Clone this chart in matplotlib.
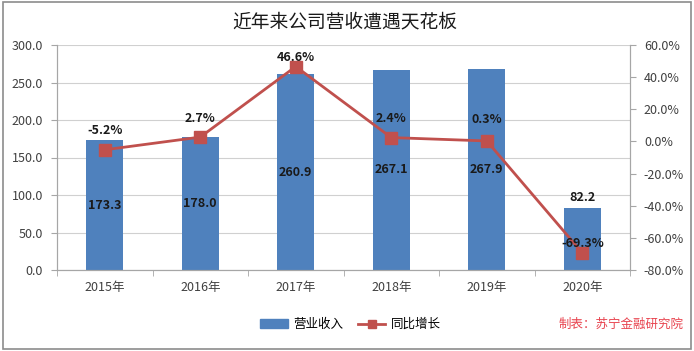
import matplotlib
matplotlib.use("Agg")
import matplotlib.pyplot as plt
from matplotlib.patches import Rectangle, Patch
from matplotlib.lines import Line2D
from matplotlib.ticker import FuncFormatter, FixedLocator

plt.rcParams['font.family'] = ['Noto Sans CJK SC', 'DejaVu Sans']

# data
years = ['2015年', '2016年', '2017年', '2018年', '2019年', '2020年']
revenue = [173.3, 178.0, 260.9, 267.1, 267.9, 82.2]
growth = [-5.2, 2.7, 46.6, 2.4, 0.3, -69.3]

bar_col = '#4f81bd'
line_col = '#c0504d'
grey = '#a6a6a6'

fig = plt.figure(figsize=(6.94, 3.51), dpi=100)
ax = fig.add_axes([57 / 694, 1 - 270 / 351, (630 - 57) / 694, 225 / 351])
ax2 = ax.twinx()

x = list(range(len(years)))
ax.bar(x, revenue, width=0.39, color=bar_col, zorder=2)
ax.set_xlim(-0.5, len(years) - 0.5)
ax.set_ylim(0, 300)
ax.set_yticks(range(0, 301, 50))
ax.yaxis.set_major_formatter(FuncFormatter(lambda v, p: '%.1f' % v))
ax.grid(axis='y', color='#d0d0d0', linewidth=0.8, zorder=0)
ax.set_axisbelow(True)
ax.set_xticks(x)
ax.set_xticklabels(years)
ax.xaxis.set_minor_locator(FixedLocator([i - 0.5 for i in range(len(years) + 1)]))
ax.tick_params(axis='x', which='major', length=0, pad=8, labelsize=9, colors='#404040')
ax.tick_params(axis='x', which='minor', length=4, color=grey)
ax.tick_params(axis='y', length=4, color=grey, labelsize=9, labelcolor='#404040', pad=6)

ax2.plot(x, growth, color=line_col, linewidth=2, marker='s', markersize=8, zorder=3)
ax2.set_ylim(-80, 60)
ax2.set_yticks(range(-80, 61, 20))
ax2.yaxis.set_major_formatter(FuncFormatter(lambda v, p: '%.1f%%' % v))
ax2.tick_params(axis='y', length=4, color=grey, labelsize=9, labelcolor='#404040', pad=6)

for a in (ax, ax2):
    for s in a.spines.values():
        s.set_color(grey)
        s.set_linewidth(0.8)
    a.spines['top'].set_visible(False)

# value labels
for i, v in enumerate(revenue):
    if v < 100:
        ax.annotate('%.1f' % v, (i, v), xytext=(0, 3), textcoords='offset points',
                    ha='center', va='bottom', fontsize=9, fontweight='bold', color='#1a1a1a')
    else:
        ax.text(i, v / 2, '%.1f' % v, ha='center', va='center',
                fontsize=9, fontweight='bold', color='#1a1a1a', zorder=4)

label_off = [9, 9, 2, 9, 11, 2]
for i, g in enumerate(growth):
    ax2.annotate('%.1f%%' % g, (i, g), xytext=(0, label_off[i]), textcoords='offset points',
                 ha='center', va='bottom', fontsize=9, fontweight='bold', color='#1a1a1a', zorder=5)

fig.text(0.497, 0.937, '近年来公司营收遭遇天花板', ha='center', va='center', fontsize=13.5, color='#1a1a1a')

handles = [Patch(color=bar_col), Line2D([], [], color=line_col, linewidth=2, marker='s', markersize=6)]
fig.legend(handles, ['营业收入', '同比增长'], loc='center', bbox_to_anchor=(0.505, 0.075), ncol=2,
           frameon=False, fontsize=9, handlelength=2.2, columnspacing=1.2, handletextpad=0.4)

fig.text(0.985, 0.075, '制表：苏宁金融研究院', ha='right', va='center', fontsize=9,
         color='#e8434e', style='italic')

fig.patches.append(Rectangle((0.004, 0.006), 0.992, 0.988, transform=fig.transFigure,
                             fill=False, edgecolor='#8c8c8c', linewidth=1.2))

fig.savefig('out.png', dpi=100)
